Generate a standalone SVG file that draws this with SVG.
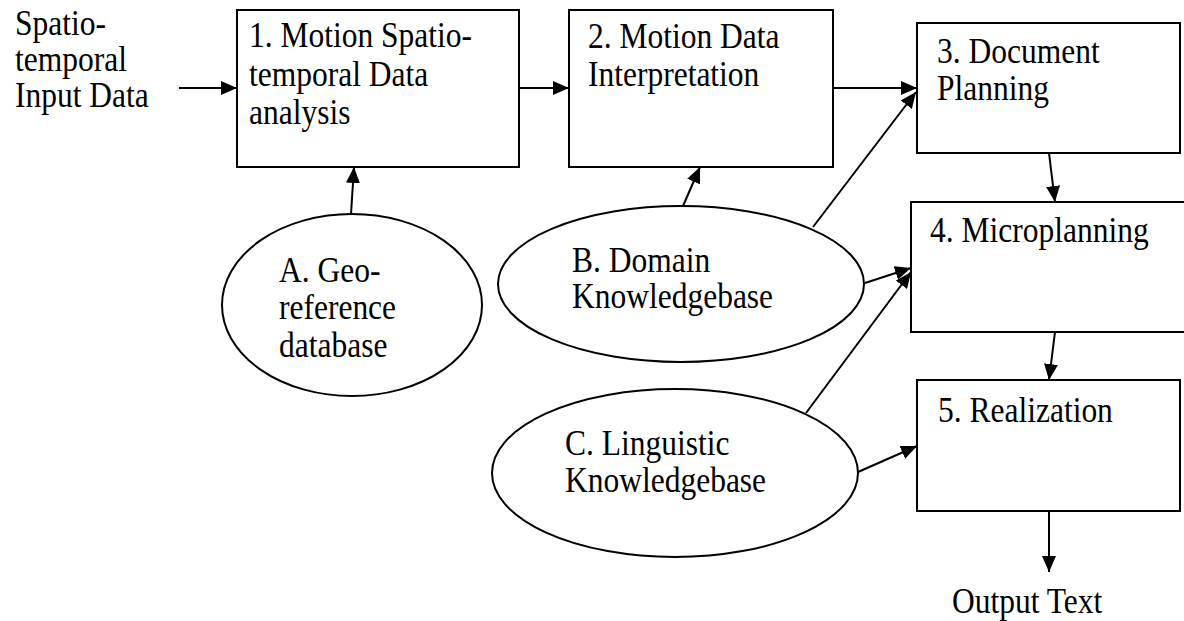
<svg xmlns="http://www.w3.org/2000/svg" width="1184" height="621" viewBox="0 0 1184 621">
<style>
.box{fill:#fff;stroke:#000;stroke-width:2}
.ell{fill:#fff;stroke:#000;stroke-width:2}
text{font-family:'Liberation Serif','Times New Roman',Times,serif;font-size:35px;fill:#000}
.c{stroke:#000;stroke-width:2;fill:none;marker-end:url(#ah)}
</style>
<defs>
<marker id="ah" markerUnits="userSpaceOnUse" markerWidth="18" markerHeight="14" refX="16" refY="7" orient="auto">
<path d="M0,0 L16,7 L0,14 Z" fill="#000"/>
</marker>
</defs>
<g id="input-label">
<text transform="translate(15 35) scale(0.9 1)">Spatio-</text>
<text transform="translate(15 71) scale(0.9 1)">temporal</text>
<text transform="translate(15 107) scale(0.9 1)">Input Data</text>
</g>
<g id="n1">
<rect class="box" x="237" y="10" width="282" height="157"/>
<text transform="translate(249 47) scale(0.9 1)">1. Motion Spatio-</text>
<text transform="translate(249 86) scale(0.9 1)">temporal Data</text>
<text transform="translate(249 124) scale(0.9 1)">analysis</text>
</g>
<g id="n2">
<rect class="box" x="569" y="10" width="264" height="157"/>
<text transform="translate(588 48) scale(0.9 1)">2. Motion Data</text>
<text transform="translate(588 86) scale(0.9 1)">Interpretation</text>
</g>
<g id="n3">
<rect class="box" x="917" y="23" width="263" height="130"/>
<text transform="translate(937 63) scale(0.9 1)">3. Document</text>
<text transform="translate(937 100) scale(0.9 1)">Planning</text>
</g>
<g id="n4">
<rect class="box" x="911" y="202" width="280" height="130"/>
<text transform="translate(930 242) scale(0.9 1)">4. Microplanning</text>
</g>
<g id="n5">
<rect class="box" x="917" y="380" width="263" height="131"/>
<text transform="translate(938 422) scale(0.9 1)">5. Realization</text>
</g>
<g id="nA">
<ellipse class="ell" cx="352" cy="305" rx="130" ry="91"/>
<text transform="translate(279 282) scale(0.9 1)">A. Geo-</text>
<text transform="translate(279 319) scale(0.9 1)">reference</text>
<text transform="translate(279 357) scale(0.9 1)">database</text>
</g>
<g id="nB">
<ellipse class="ell" cx="681" cy="284" rx="183" ry="78"/>
<text transform="translate(572 272) scale(0.9 1)">B. Domain</text>
<text transform="translate(572 308) scale(0.9 1)">Knowledgebase</text>
</g>
<g id="nC">
<ellipse class="ell" cx="675" cy="473" rx="183" ry="84"/>
<text transform="translate(565 455) scale(0.9 1)">C. Linguistic</text>
<text transform="translate(565 492) scale(0.9 1)">Knowledgebase</text>
</g>
<g id="output-label">
<text transform="translate(952 613) scale(0.9 1)">Output Text</text>
</g>
<g id="connectors">
<line class="c" x1="179" y1="88" x2="237" y2="88"/>
<line class="c" x1="519" y1="88" x2="569" y2="88"/>
<line class="c" x1="833" y1="88" x2="917" y2="88"/>
<line class="c" x1="351" y1="214" x2="354" y2="167"/>
<line class="c" x1="683" y1="206" x2="700" y2="167"/>
<line class="c" x1="813" y1="227" x2="916" y2="92"/>
<line class="c" x1="865" y1="283" x2="911" y2="268"/>
<line class="c" x1="806" y1="413" x2="911" y2="272"/>
<line class="c" x1="858" y1="472" x2="917" y2="446"/>
<line class="c" x1="1049" y1="153" x2="1055" y2="202"/>
<line class="c" x1="1055" y1="332" x2="1049" y2="380"/>
<line class="c" x1="1049" y1="511" x2="1049" y2="572"/>
</g>
</svg>
